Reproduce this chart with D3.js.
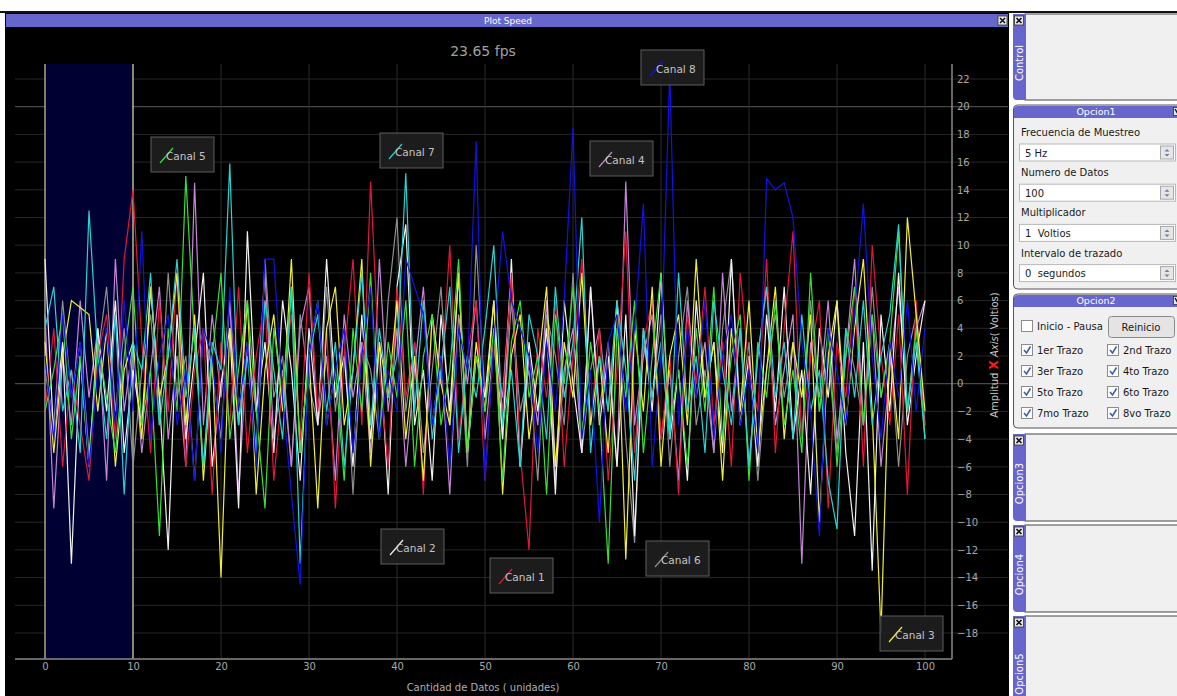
<!DOCTYPE html>
<html>
<head>
<meta charset="utf-8">
<script src="https://d3js.org/d3.v7.min.js"></script>
<style>
  body { margin: 0; background: #ffffff; }
  svg { display: block; }
</style>
</head>
<body>
<div id="plot"></div>
<script>
// data: 8 channels, 101 samples each (x = 0..100)
const xTicks = [0, 10, 20, 30, 40, 50, 60, 70, 80, 90, 100]
const yTicks = [-18, -16, -14, -12, -10, -8, -6, -4, -2, 0, 2, 4, 6, 8, 10, 12, 14, 16, 18, 20, 22]
const channelNames = ["Canal 1", "Canal 2", "Canal 3", "Canal 4", "Canal 5", "Canal 6", "Canal 7", "Canal 8"]
const fpsLabel = "23.65 fps"

const canal1 = [-2, 4, -6, 1, -3, -7, 2, 5, -4, 9, 14, 3, -5, 6, -2, 8, -6, 1, 4, -8, 3, -3, 7, -5, 2, 6, -7, 0, 5, -4, 8, -2, 4, -9, 2, 9, -3, 14.6, 1, -6, 7, -1, 3, -8, 5, 0, 10, -4, 2, 6, -7, 3, -2, 8, -5, -12, 4, -1, 6, -6, 2, 9, -3, 4, -7, 1, 11, -5, 3, 6, -4, 2, -8, 5, 0, 7, -3, 3, -6, 8, 1, -2, 9, -5, 4, 11, -4, 2, 6, -9, 3, -1, 7, -6, 10, 2, -3, 5, -8, 6, -4]
const canal2 = [9, -4, 3, -13, 2, -6, 4, -2, 6, -5, 1, -3, 7, -1, -12, 5, -4, 2, 8, -6, 0, 4, -9, 11, -2, 3, -5, 6, 1, -7, 4, -3, 9, -1, 2, -6, 5, -4, 3, -8, 7, 11.5, -3, 1, -7, 5, -2, 8, -5, 2, -1, 6, -4, 9, -6, 3, -2, 4, -8, 6, 0, -5, 7, -3, 2, -6, 5, -11, 4, -2, 8, -4, 1, -7, 6, -1, 3, -5, 9, -3, 2, -6, 5, -2, 7, -4, 1, -8, 4, -1, 6, -5, -11, 3, -13.5, 5, -2, 8, -3, 2, 6]
const canal3 = [3, -5, 2, 6, 5.5, 5, -2, 4, -6, 1, 3, -4, 7, -1, 2, 8, -3, 5, -7, 2, -14, 4, -3, 6, -8, 1, 5, -2, 9, -5, 2, -9, 4, 7, -3, 1, 9, -6, 3, -1, 6, -4, 2, -7, 5, 0, -3, 8, -5, 3, -2, 6, -8, 2, 5, -4, 1, 7, -6, 3, -1, 8, -3, 2, -5, 6, -12.7, 4, -2, 7, -6, 2, 5, -3, 9, -1, 3, -7, 4, -2, 6, -5, 1, 7, -4, 3, -1, 5, -10, 2, 6, -3, 4, 9, -2, -18, 3, -4, 12, 5, -2]
const canal4 = [5, -9, 2, -3, 6, -1, 4, -7, 9, -2, 3, -5, 1, 7, -4, 2, -6, 14.5, -3, 5, -1, 6, -8, 3, -2, 8, -4, 1, -6, 4, 7, -3, 2, -7, 5, -1, 3, -5, 9, -2, 4, -6, 1, 7, -3, 2, -8, 5, 0, 6, -4, 3, -1, 8, -6, 2, -3, 6, -7, 1, 4, -5, 7, -2, 3, -6, 14.6, -3, 2, 5, -4, 1, -7, 6, -1, 3, -5, 8, -2, 4, -6, 2, 7, -3, 1, 5, -13, 3, -1, 6, -4, 2, 9, -3, 5, -6, 1, 7, -2, 4, 6]
const canal5 = [-2, 1, 5, -4, 2, -6, 3, -1, -5, 2, 7, -3, 1, -11, 4, -2, 15, 3, -6, 2, 8, -4, 1, 6, -2, -9, 4, -1, 7, -5, 2, 6, -3, 1, -7, 4, -2, 8, -4, 3, -1, 6, -6, 2, 5, -3, 1, 9, -5, 2, -2, 4, -7, 3, 6, -1, 2, -8, 5, 0, 7, -4, 3, -2, -13, 4, -1, 6, -5, 2, 8, -3, 1, -6, 4, -2, 7, -4, 2, 5, -7, 3, -1, 6, -3, 1, -5, 8, -2, 4, -6, 2, 7, -3, 5, -1, 3, 11, -2, 4, -4]
const canal6 = [1, -3, 6, -1, 3, -5, 2, 7, -2, 4, -6, 1, 5, -3, 8, -1, 2, -7, 4, 1, -4, 6, -2, 3, -5, 9, -1, 2, -6, 5, 0, -3, 7, -2, 4, -8, 3, 1, -4, 6, 12, -2, 3, -5, 1, 7, -3, 4, -6, 10, -1, 3, -4, 6, -2, 1, -7, 5, 2, -3, 8, -5, 1, 4, -2, 6, -4, -11.5, 3, -1, 5, -6, 2, 7, -3, 1, -5, 4, 9, -2, 3, -7, 1, 5, -1, 3, -4, 6, -2, 2, -5, 4, 1, -3, 7, -1, 3, -6, 2, 5, -3]
const canal7 = [4, 7, -2, 1, -5, 12.5, 2, -4, 5, -8, 3, 1, 8, -3, 2, 9, -1, 4, -6, 3, 1, 15.9, -3, 2, -5, 6, 1, -4, 7, -13, 2, 5, -2, 3, -6, 1, 8, -3, 4, -1, 2, 15.2, -2, 6, -4, 1, 7, -5, 2, -1, 4, 10, -3, 1, -6, 5, 2, -4, 7, -1, 3, 12, -5, 2, -2, 6, 1, -7, 4, -1, 3, -4, 8, -2, 2, -5, 6, 1, -3, 4, -6, 2, 7, -1, 3, -4, 5, -2, 1, -7, -10.5, 4, -1, 6, -3, 2, 5, 11.5, -2, 3, -4]
const canal8 = [2, -4, 5, -1, 3, -6, 1, 4, -3, 6, -2, 11, -4, 2, 5, -3, 1, -7, 4, 2, -5, 7, -2, 3, -6, 9, 9, -1, -8, -14.5, 2, 6, -3, 1, 4, -5, 2, 7, -4, 1, -2, 9, 7, 5, -3, 2, -6, 4, 1, 17.5, -7, 3, 11, 6, 4, 2, -5, 3, -2, 6, 18.5, -4, 1, -10, 3, 5, -2, 4, 13, -6, 2, 22.5, -3, 4, -1, 6, -4, 2, 5, -3, 1, -5, 14.8, 14, 14.5, 12, 3, -2, -11, 4, 1, -3, 5, 13, 2, -4, 3, -1, 6, -2, 4]

// layout / styles
const W = 1177, H = 696
const colors = ["#e4163a", "#f2f2f2", "#f0f038", "#c586d6", "#38e038", "#8f8f8f", "#27d4d4", "#1212e6"]
const legendPos = [[490, 558], [381, 529], [880, 616], [590, 141], [151, 137], [646, 541], [380, 133], [641, 50]]
const drawOrder = [5, 3, 1, 0, 2, 4, 6, 7]
const plotLeft = 15, plotRight = 952, plotTop = 64, plotBottom = 659
const purple = "#6666cc"
const uiFont = "'DejaVu Sans', Verdana, sans-serif"

const series = [canal1, canal2, canal3, canal4, canal5, canal6, canal7, canal8]

const svg = d3.select("#plot").append("svg")
    .attr("width", W)
    .attr("height", H)

// ---------- plot window ----------
svg.append("rect").attr("x", 0).attr("y", 11).attr("width", W).attr("height", 2).attr("fill", "#111")
svg.append("rect").attr("x", 5).attr("y", 13).attr("width", 1004).attr("height", H - 13).attr("fill", "#000")
svg.append("rect").attr("x", 6).attr("y", 14).attr("width", 1002).attr("height", 13).attr("fill", purple)
svg.append("text")
    .attr("x", 508).attr("y", 24)
    .attr("text-anchor", "middle")
    .attr("font-family", uiFont).attr("font-size", 9)
    .attr("fill", "#fff")
    .text("Plot Speed")

const closeBtn = (g, x, y) => {
    g.append("rect").attr("x", x).attr("y", y).attr("width", 9).attr("height", 9)
        .attr("fill", "#e8e8e8").attr("stroke", "#333").attr("stroke-width", 0.8)
    g.append("path").attr("d", `M${x + 2},${y + 2}L${x + 7},${y + 7}M${x + 7},${y + 2}L${x + 2},${y + 7}`)
        .attr("stroke", "#111").attr("stroke-width", 1.6)
}
closeBtn(svg, 998, 16)

let x = d3.scaleLinear().domain([0, 100]).range([45, 925])
let y = d3.scaleLinear().domain([-18, 22]).range([633, 79])

// grid
const grid = svg.append("g")
grid.selectAll("line.h")
    .data(yTicks)
    .enter().append("line")
    .attr("x1", plotLeft).attr("x2", 1008)
    .attr("y1", d => y(d)).attr("y2", d => y(d))
    .attr("stroke", d => (d === 0 || d === 20) ? "#5a5a5a" : "#262626")
    .attr("stroke-width", 1)
grid.selectAll("line.v")
    .data(xTicks.filter(d => d > 10))
    .enter().append("line")
    .attr("x1", d => x(d)).attr("x2", d => x(d))
    .attr("y1", plotTop).attr("y2", plotBottom)
    .attr("stroke", "#2a2a2a")

// highlighted interval 0..10
svg.append("rect")
    .attr("x", x(0)).attr("y", plotTop)
    .attr("width", x(10) - x(0)).attr("height", plotBottom - plotTop)
    .attr("fill", "#000032")
svg.append("line").attr("x1", x(0)).attr("x2", x(0)).attr("y1", plotTop).attr("y2", plotBottom)
    .attr("stroke", "#cfcfb0").attr("stroke-width", 1.2)
svg.append("line").attr("x1", x(10)).attr("x2", x(10)).attr("y1", plotTop).attr("y2", plotBottom)
    .attr("stroke", "#e8e8a8").attr("stroke-width", 1.2)

// axes
const xAxis = d3.axisBottom(x).tickValues(xTicks).tickSize(0).tickPadding(4)
const gx = svg.append("g").attr("transform", "translate(0," + plotBottom + ")").call(xAxis)
const yAxis = d3.axisRight(y).tickValues(yTicks).tickSize(0).tickPadding(5)
const gy = svg.append("g").attr("transform", "translate(" + plotRight + ",0)").call(yAxis)

const styleAxis = (g) => {
    g.select(".domain").remove()
    g.selectAll(".tick text")
        .attr("font-family", uiFont)
        .attr("font-size", 10)
        .style("fill", "#a8a8a8")
}
styleAxis(gx)
styleAxis(gy)

svg.append("line").attr("x1", plotLeft).attr("x2", plotRight).attr("y1", plotBottom).attr("y2", plotBottom)
    .attr("stroke", "#8a8a8a").attr("stroke-width", 1.5)
svg.append("line").attr("x1", plotRight).attr("x2", plotRight).attr("y1", plotTop).attr("y2", plotBottom)
    .attr("stroke", "#8a8a8a").attr("stroke-width", 1.5)

svg.append("text")
    .attr("x", 483).attr("y", 691)
    .attr("text-anchor", "middle")
    .attr("font-family", uiFont).attr("font-size", 10)
    .attr("fill", "#b0b0b0")
    .text("Cantidad de Datos ( unidades)")

const yTitle = svg.append("text")
    .attr("transform", "translate(998,355) rotate(-90)")
    .attr("text-anchor", "middle")
    .attr("font-family", uiFont).attr("font-size", 10)
    .attr("fill", "#c8c8c8")
yTitle.append("tspan").text("Amplitud ")
yTitle.append("tspan").attr("fill", "#ff1a1a").attr("font-weight", "bold").attr("font-size", 12).text("X")
yTitle.append("tspan").attr("font-style", "italic").text(" Axis")
yTitle.append("tspan").text("( Voltios)")

svg.append("text")
    .attr("x", 483).attr("y", 56)
    .attr("text-anchor", "middle")
    .attr("font-family", uiFont).attr("font-size", 14)
    .attr("fill", "#a0a0a0")
    .text(fpsLabel)

// lines
const line = d3.line()
    .x((d, i) => x(i))
    .y(d => y(d))

svg.append("g")
    .selectAll("path")
    .data(drawOrder)
    .enter()
    .append("path")
    .attr("d", k => line(series[k]))
    .attr("fill", "none")
    .attr("stroke", k => colors[k])
    .attr("stroke-width", 1.2)
    .attr("stroke-linejoin", "miter")

// legend boxes
const legend = svg.append("g")
channelNames.forEach((name, i) => {
    const [lx, ly] = legendPos[i]
    const g = legend.append("g").attr("transform", "translate(" + lx + "," + ly + ")")
    g.append("rect").attr("width", 63).attr("height", 35)
        .attr("fill", "#1e1e1e").attr("fill-opacity", 0.92)
        .attr("stroke", "#5e5e5e").attr("stroke-width", 1)
    g.append("line").attr("x1", 9).attr("y1", 26).attr("x2", 22).attr("y2", 11)
        .attr("stroke", colors[i]).attr("stroke-width", 1.2)
    g.append("text").attr("x", 15).attr("y", 23)
        .attr("font-family", uiFont).attr("font-size", 10.5)
        .attr("fill", "#c4c4c4")
        .text(name)
})

// ---------- right side panels ----------
const side = svg.append("g")

const vTab = (y0, y1, label) => {
    side.append("rect").attr("x", 1025).attr("y", y0).attr("width", 160).attr("height", y1 - y0)
        .attr("fill", "#f0f0f0").attr("stroke", "#444").attr("stroke-width", 1)
    side.append("path")
        .attr("d", `M1013,${y0}H1026V${y1}H1017Q1013,${y1} 1013,${y1 - 4}Z`)
        .attr("fill", purple)
    closeBtn(side, 1014.5, y0 + 2)
    side.append("text")
        .attr("transform", `translate(1023,${(y0 + y1) / 2 + 6}) rotate(-90)`)
        .attr("text-anchor", "middle")
        .attr("font-family", uiFont).attr("font-size", 10)
        .attr("fill", "#fff")
        .text(label)
}
side.append("rect").attr("x", 1009).attr("y", 13).attr("width", 168).attr("height", H - 13).attr("fill", "#fff")
vTab(14, 100, "Control")

const boxPanel = (y0, y1, title) => {
    side.append("rect").attr("x", 1013.5).attr("y", y0).attr("width", 175).attr("height", y1 - y0)
        .attr("rx", 4).attr("fill", "#f0f0f0").attr("stroke", "#555")
    side.append("path")
        .attr("d", `M1014,${y0 + 13}V${y0 + 4}Q1014,${y0 + 1} 1018,${y0 + 1}H1177V${y0 + 13}Z`)
        .attr("fill", purple)
    side.append("text").attr("x", 1096).attr("y", y0 + 10)
        .attr("text-anchor", "middle")
        .attr("font-family", uiFont).attr("font-size", 9.5)
        .attr("fill", "#fff")
        .text(title)
    // partly hidden close icon at the right edge
    side.append("rect").attr("x", 1173.5).attr("y", y0 + 2.5).attr("width", 8).attr("height", 8)
        .attr("fill", "#e8e8e8").attr("stroke", "#333").attr("stroke-width", 0.8)
    side.append("path").attr("d", `M1175,${y0 + 4}L1178,${y0 + 9}`)
        .attr("stroke", "#111").attr("stroke-width", 1.4)
}

const uiText = (tx, ty, s) => side.append("text").attr("x", tx).attr("y", ty)
    .attr("font-family", uiFont).attr("font-size", 10)
    .attr("fill", "#1a1a1a").text(s)

boxPanel(105, 289, "Opcion1")
const spinRows = [["Frecuencia de Muestreo", "5 Hz"], ["Numero de Datos", "100"], ["Multiplicador", "1  Voltios"], ["Intervalo de trazado", "0  segundos"]]
spinRows.forEach((r, i) => {
    const top = 144 + i * 40.2
    uiText(1021, top - 8, r[0])
    side.append("rect").attr("x", 1019.5).attr("y", top).attr("width", 156).attr("height", 17)
        .attr("fill", "#fff").attr("stroke", "#b8b8b8")
    uiText(1025, top + 12.5, r[1]).attr("xml:space", "preserve")
    side.append("rect").attr("x", 1160.5).attr("y", top + 2).attr("width", 13).attr("height", 13)
        .attr("fill", "#e6e6e6").attr("stroke", "#a8a8a8")
    side.append("path")
        .attr("d", `M1164.5,${top + 7.5}L1167,${top + 5}L1169.5,${top + 7.5}ZM1164.5,${top + 10}L1167,${top + 12.5}L1169.5,${top + 10}Z`)
        .attr("fill", "#6a7fa8")
})

boxPanel(294, 428, "Opcion2")
const checkbox = (cx, cy, checked) => {
    side.append("rect").attr("x", cx + 0.5).attr("y", cy - 5.5).attr("width", 11).attr("height", 11)
        .attr("fill", "#fdfdfd").attr("stroke", "#8c8c8c")
    if (checked) {
        side.append("path").attr("d", `M${cx + 3},${cy}L${cx + 5.5},${cy + 3}L${cx + 9.5},${cy - 3.5}`)
            .attr("fill", "none").attr("stroke", "#3b5aa8").attr("stroke-width", 1.5)
    }
}
checkbox(1021, 326, false)
uiText(1037, 330, "Inicio - Pausa")
side.append("rect").attr("x", 1108.5).attr("y", 316.5).attr("width", 66).attr("height", 21)
    .attr("rx", 3).attr("fill", "#e4e4e4").attr("stroke", "#8a8a8a")
side.append("text").attr("x", 1141).attr("y", 330.5).attr("text-anchor", "middle")
    .attr("font-family", uiFont).attr("font-size", 10).attr("fill", "#1a1a1a").text("Reinicio")

const traceLabels = ["1er Trazo", "2nd Trazo", "3er Trazo", "4to Trazo", "5to Trazo", "6to Trazo", "7mo Trazo", "8vo Trazo"]
traceLabels.forEach((t, i) => {
    const col = i % 2, row = Math.floor(i / 2)
    const bx = col === 0 ? 1021 : 1107
    const cy = 350 + row * 21
    checkbox(bx, cy, true)
    uiText(bx + 16, cy + 4, t)
})

vTab(434, 521, "Opcion3")
vTab(525, 612, "Opcion4")
vTab(616, 720, "Opcion5")
</script>
</body>
</html>
